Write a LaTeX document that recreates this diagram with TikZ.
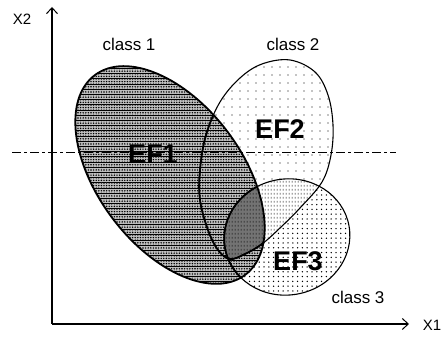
\documentclass[tikz,border=0pt]{standalone}
\usepackage{fontspec}
\setmainfont{Liberation Sans}
\usetikzlibrary{patterns,patterns.meta,arrows.meta}
\tikzdeclarepattern{name=vdashes,type=uncolored,bottom left={(0pt,0pt)},top right={(3pt,4pt)},tile size={(3pt,4pt)},
  code={\pgfsetlinewidth{0.8pt}\pgfpathmoveto{\pgfpoint{1.5pt}{0.5pt}}\pgfpathlineto{\pgfpoint{1.5pt}{2.7pt}}\pgfusepath{stroke}}}
\begin{document}
\begin{tikzpicture}[x=1pt,y=1pt,
  axis/.style={line width=1.2pt,-{Straight Barb[length=6pt,width=11pt,line width=1pt]}},
  outline/.style={draw=black,line width=1.8pt},
  thinline/.style={draw=black,line width=1.1pt},
  cls/.style={font=\fontsize{17}{17}\selectfont},
  ef/.style={font=\fontsize{27}{27}\selectfont\bfseries},
  axlbl/.style={font=\fontsize{15}{15}\selectfont}]
\useasboundingbox (0,0) rectangle (448,339);
% shape definitions
\def\eone{[rotate around={-53:(170,164)}] (170,164) ellipse (125 and 72)}
\def\etwo{plot[smooth cycle,tension=0.6] coordinates{(290,279) (315,267) (328,244) (333,214) (331,184) (322,157) (300,131) (280,111) (262,95) (245,85) (230,80) (218,89) (208,109) (200,139) (200,169) (206,204) (220,237) (240,261) (262,275)}}
\def\ethree{[rotate around={10:(287,102)}] (287,102) ellipse (63 and 58)}
% class 2 fill
\fill[white] \etwo;
\fill[pattern={Dots[distance=8pt,radius=0.7pt]},pattern color=black] \etwo;
% class 3 fill
\fill[white] \ethree;
\fill[pattern={Dots[distance=4.8pt,radius=0.75pt]},pattern color=black] \ethree;
% 2 cap 3
\begin{scope}
\clip \etwo;
\fill[white] \ethree;
\fill[pattern=vdashes,pattern color=black] \ethree;
\end{scope}
% class 1 fill
\fill[black!25] \eone;
\fill[pattern={Dots[distance=2.6pt,radius=0.8pt]},pattern color=black] \eone;
\fill[pattern={Lines[angle=0,distance=5.2pt,line width=1pt]},pattern color=black] \eone;
% 1 cap 2 cap 3
\begin{scope}
\clip \eone;
\clip \etwo;
\fill[black!55] \ethree;
\fill[pattern=vdashes,pattern color=black] \ethree;
\end{scope}
% outlines
\path[thinline] \etwo;
\path[thinline] \ethree;
\path[outline] \eone;
\begin{scope}
\clip \eone;
\path[outline] \ethree;
\path[outline] \etwo;
\end{scope}
% axes
\coordinate (O) at (52,15);
\coordinate (Ytop) at (52,332);
\coordinate (Xend) at (409,15);
\draw[axis] (O) -- (Ytop);
\draw[axis] (O) -- (Xend);
\node[axlbl] (x2) at (22,320) {X2};
\node[axlbl] (x1) at (432,14) {X1};
% dashed reference line
\coordinate (dl) at (12,187);
\coordinate (dr) at (396,187);
\draw[line width=0.5pt,dash pattern=on 9pt off 3pt on 3pt off 3pt] (dl) -- (dr);
% labels
\node[cls] (c1) at (129,295) {class 1};
\node[cls] (c2) at (293,295) {class 2};
\node[cls] (c3) at (358,42) {class 3};
\node[ef] (ef1) at (153,185) {EF1};
\node[ef] (ef2) at (280,210) {EF2};
\node[ef] (ef3) at (298,78) {EF3};
\end{tikzpicture}
\end{document}
